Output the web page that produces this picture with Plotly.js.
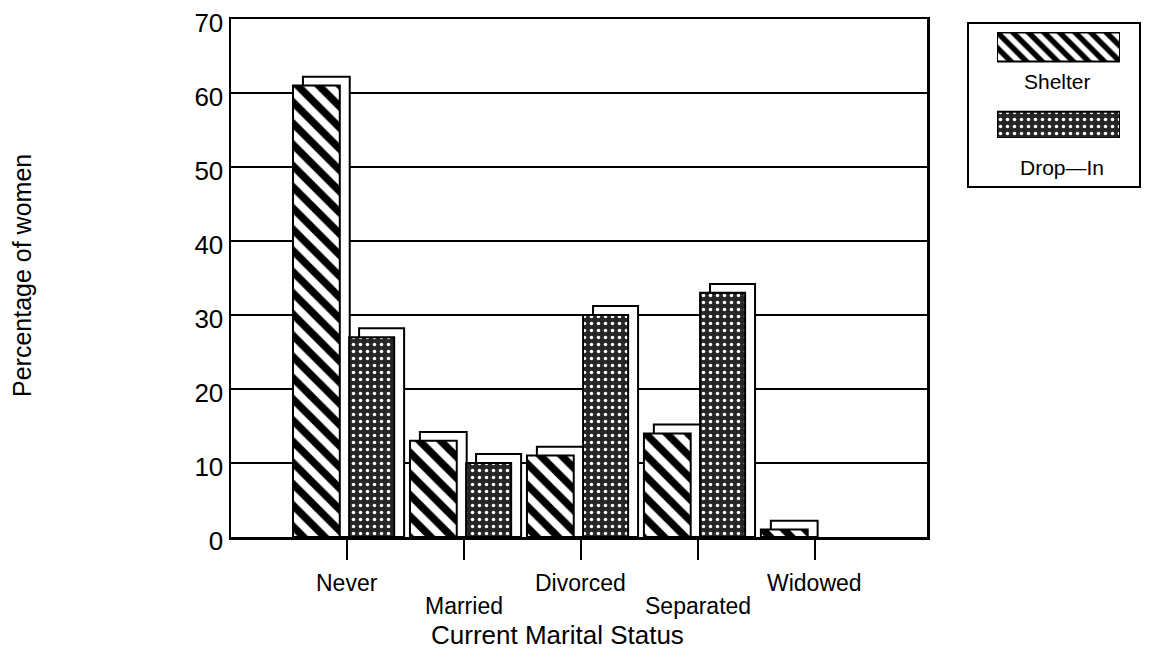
<!DOCTYPE html>
<html>
<head>
<meta charset="utf-8">
<script src="https://cdn.plot.ly/plotly-3.0.1.min.js"></script>
<style>
  html, body { margin: 0; padding: 0; background: #ffffff; }
  #chart { width: 1154px; height: 654px; }
</style>
</head>
<body>
<div id="chart"></div>
<script>
// ---- data ----
var categories = ["Never", "Married", "Divorced", "Separated", "Widowed"];
var seriesNames = ["Shelter", "Drop—In"];
var shelterValues = [61, 13, 11, 14, 1];
var dropInValues = [27, 10, 30, 33, 0];
var yTickValues = [0, 10, 20, 30, 40, 50, 60, 70];
var xAxisTitle = "Current Marital Status";
var yAxisTitle = "Percentage of women";

// ---- styling ----
var FONT = "Liberation Sans, Arial, sans-serif";
var idx = categories.map(function (c, i) { return i; });
var depthX = 0.085;   // 3-D box offset (category units)
var depthY = 1.2;     // 3-D box offset (value units)

var shelterPattern = { shape: "\\", fgcolor: "#000000", bgcolor: "#ffffff", size: 15, solidity: 0.5 };
var dropInPattern = { shape: ".", fgcolor: "#ffffff", bgcolor: "#262626", size: 7, solidity: 0.2 };
var legendShelterPattern = { shape: "\\", fgcolor: "#000000", bgcolor: "#ffffff", size: 11, solidity: 0.5 };

function visible(vals) {
  return vals.map(function (v) { return v > 0 ? v : null; });
}
function shadowOf(vals) {
  return vals.map(function (v) { return v > 0 ? v + depthY : null; });
}

var shelterOffset = -0.46, dropInOffset = 0.02, barW = 0.40, barW2 = 0.385;

var traces = [
  // 3-D back boxes (drawn first, under the front faces)
  {
    type: "bar", x: idx, y: shadowOf(shelterValues), xaxis: "x", yaxis: "y",
    offset: shelterOffset + depthX, width: barW,
    marker: { color: "#ffffff", line: { color: "#000000", width: 2 } },
    hoverinfo: "skip", showlegend: false
  },
  {
    type: "bar", x: idx, y: shadowOf(dropInValues), xaxis: "x", yaxis: "y",
    offset: dropInOffset + depthX, width: barW2,
    marker: { color: "#ffffff", line: { color: "#000000", width: 2 } },
    hoverinfo: "skip", showlegend: false
  },
  {
    type: "bar", name: seriesNames[0], x: idx, y: visible(shelterValues), xaxis: "x", yaxis: "y",
    offset: shelterOffset, width: barW,
    marker: { color: "#ffffff", pattern: shelterPattern, line: { color: "#000000", width: 2 } },
    showlegend: false
  },
  {
    type: "bar", name: seriesNames[1], x: idx, y: visible(dropInValues), xaxis: "x", yaxis: "y",
    offset: dropInOffset, width: barW2,
    marker: { color: "#262626", pattern: dropInPattern, line: { color: "#000000", width: 2 } },
    showlegend: false
  },
  // legend swatches (separate tiny axes inside the legend box)
  {
    type: "bar", orientation: "h", x: [1], y: [seriesNames[0]], xaxis: "x2", yaxis: "y2",
    width: 0.37,
    marker: { color: "#ffffff", pattern: legendShelterPattern, line: { color: "#000000", width: 2 } },
    hoverinfo: "skip", showlegend: false
  },
  {
    type: "bar", orientation: "h", x: [1], y: [seriesNames[1]], xaxis: "x2", yaxis: "y2",
    width: 0.34,
    marker: { color: "#262626", pattern: dropInPattern, line: { color: "#000000", width: 2 } },
    hoverinfo: "skip", showlegend: false
  }
];

// paper-coordinate helpers (plot area: x 231..1140 px, y 19..537 px)
var L = 231, R = 14, T = 19, B = 117, W = 1154, H = 654;
var PW = W - L - R, PH = H - T - B;
function px(x) { return (x - L) / PW; }
function py(y) { return (H - B - y) / PH; }

var annotations = [];
categories.forEach(function (c, i) {
  annotations.push({
    x: i, xref: "x", y: py(i % 2 === 0 ? 583 : 606), yref: "paper",
    text: c, showarrow: false, xanchor: "center", yanchor: "middle",
    font: { family: FONT, size: 23, color: "#000000" }
  });
});
annotations.push({
  x: px(557), xref: "paper", y: py(635), yref: "paper",
  text: xAxisTitle, showarrow: false, xanchor: "center", yanchor: "middle",
  font: { family: FONT, size: 26, color: "#000000" }
});
annotations.push({
  x: px(22), xref: "paper", y: py(276), yref: "paper",
  text: yAxisTitle, textangle: -90, showarrow: false, xanchor: "center", yanchor: "middle",
  font: { family: FONT, size: 25, color: "#000000" }
});
annotations.push({
  x: px(1057), xref: "paper", y: py(82), yref: "paper",
  text: seriesNames[0], showarrow: false, xanchor: "center", yanchor: "middle",
  font: { family: FONT, size: 21, color: "#000000" }
});
annotations.push({
  x: px(1062), xref: "paper", y: py(167), yref: "paper",
  text: seriesNames[1], showarrow: false, xanchor: "center", yanchor: "middle",
  font: { family: FONT, size: 21, color: "#000000" }
});

var layout = {
  width: W, height: H,
  margin: { l: L, r: R, t: T, b: B, pad: 0 },
  paper_bgcolor: "#ffffff", plot_bgcolor: "#ffffff",
  barmode: "overlay",
  showlegend: false,
  font: { family: FONT, color: "#000000" },
  xaxis: {
    domain: [0, px(927)],
    range: [-0.99, 4.96],
    tickmode: "array", tickvals: idx, ticktext: categories, showticklabels: false,
    ticks: "outside", ticklen: 20, tickwidth: 2, tickcolor: "#000000",
    showgrid: false, zeroline: false,
    showline: true, linecolor: "#000000", linewidth: 2.5, mirror: true,
    fixedrange: true
  },
  yaxis: {
    range: [0, 70],
    tickmode: "array", tickvals: yTickValues,
    ticks: "", showgrid: true, gridcolor: "#000000", gridwidth: 2.8,
    zeroline: false,
    showline: true, linecolor: "#000000", linewidth: 2.5, mirror: true,
    tickfont: { family: FONT, size: 26, color: "#000000" },
    ticklabelshift: 4,
    fixedrange: true
  },
  xaxis2: {
    domain: [px(997), px(1120)], range: [0, 1], anchor: "y2",
    visible: false, fixedrange: true
  },
  yaxis2: {
    domain: [py(138), py(32)], anchor: "x2",
    type: "category", categoryorder: "array", categoryarray: [seriesNames[1], seriesNames[0]],
    range: [-0.167, 1.192], visible: false, fixedrange: true
  },
  shapes: [{
    type: "rect", xref: "paper", yref: "paper",
    x0: px(968), x1: px(1140), y0: py(187), y1: py(23),
    line: { color: "#000000", width: 2 }, fillcolor: "rgba(0,0,0,0)", layer: "below"
  }],
  annotations: annotations
};

Plotly.newPlot("chart", traces, layout, { displayModeBar: false, staticPlot: true });
</script>
</body>
</html>
